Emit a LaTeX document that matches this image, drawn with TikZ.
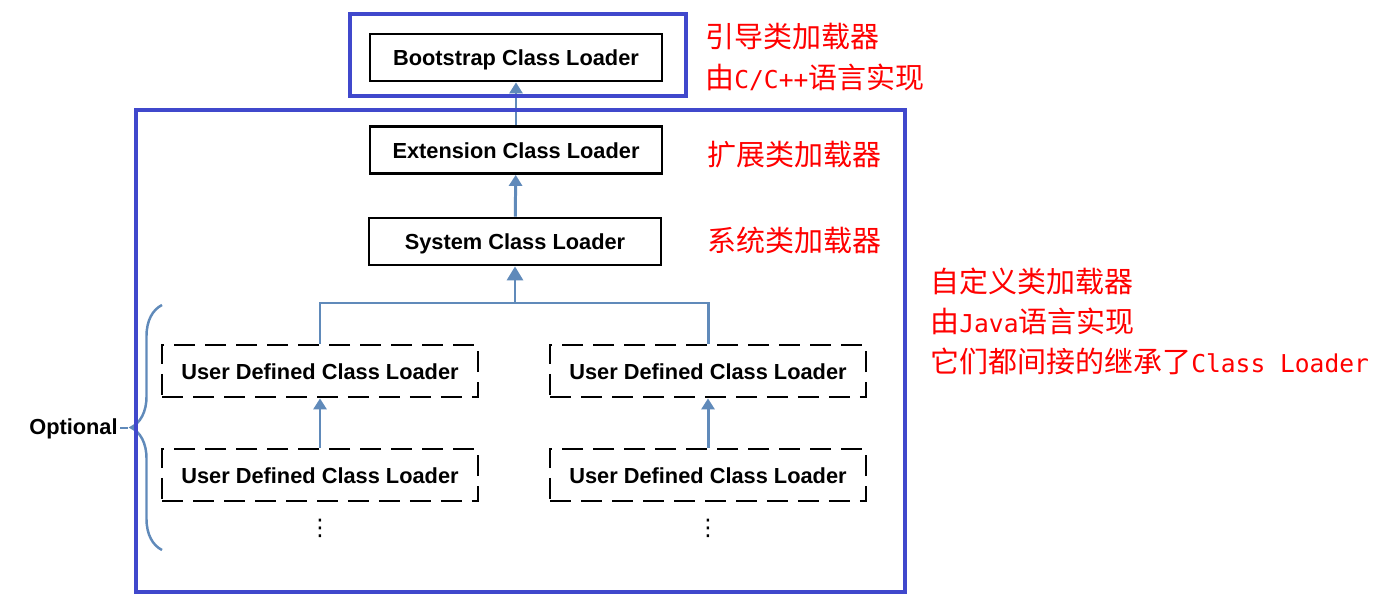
\documentclass[tikz,border=0pt]{standalone}
\usepackage{fontspec}
\usetikzlibrary{arrows.meta,decorations.pathreplacing}
\newfontfamily\cjk{Noto Sans CJK SC}
\newfontfamily\mono{DejaVu Sans Mono}
\newfontfamily\arial{Liberation Sans}
\newfontfamily\dejavu{DejaVu Sans}
\newcommand\asc[1]{{\mono\fontsize{14}{22.8}\selectfont #1}}
\definecolor{frameblue}{RGB}{64,72,204}
\definecolor{linkblue}{RGB}{96,138,186}

\begin{document}
\begin{tikzpicture}[x=0.02cm,y=-0.02cm,
    loader/.style ={draw, line width=1.6pt, minimum width=5.84cm, minimum height=0.94cm,
                    inner sep=0pt, text height=0.4cm, text depth=0.06cm,
                    font=\arial\bfseries\fontsize{12.4}{14}\selectfont},
    userloader/.style ={loader, minimum width=6.32cm, minimum height=1.04cm,
                    dash pattern=on 0.42cm off 0.2cm},
    link/.style ={draw=linkblue, line width=1.7pt},
    uplink/.style ={link, -{Triangle[width=0.26cm,length=0.22cm]}},
    frame/.style ={draw=frameblue, line width=2.4pt},
    more/.style ={inner sep=0pt, font=\dejavu\fontsize{13}{14}\selectfont},
    note/.style ={text=red, align=left, inner sep=0pt,
                  font=\cjk\fontsize{16.5}{22.8}\selectfont}]
   \useasboundingbox[fill=white] (0,0) rectangle (1386,607);

   \node[loader] (B) at (516,57.5) {Bootstrap Class Loader};
   \node[loader] (E) at (516,150) {Extension Class Loader};
   \node[loader] (S) at (515,241.5) {System Class Loader};
   \node[userloader] (U1) at (320,371) {User Defined Class Loader};
   \node[userloader] (U2) at (708,371) {User Defined Class Loader};
   \node[userloader] (U3) at (320,475) {User Defined Class Loader};
   \node[userloader] (U4) at (708,475) {User Defined Class Loader};
   \node[more] (D1) at (320,528) {⋮};
   \node[more] (D2) at (708,528) {⋮};
   \node[font=\arial\bfseries\fontsize{12.4}{14}\selectfont, anchor=east, inner sep=0pt]
        (O) at (118,429) {Optional};
   \coordinate (F) at (515,303);
   \coordinate (T) at (128,428);

   \draw[uplink] (E) to (B);
   \draw[uplink] (S) to (E);
   \draw[uplink, -{Triangle[width=0.32cm,length=0.28cm]}] (F) to (S);
   \draw[link] (U1.north) |- (F) -| (U2.north);
   \draw[uplink] (U3) to (U1);
   \draw[uplink] (U4) to (U2);

   % bracket on the left
   \draw[link, line width=1.4pt, decorate, decoration={brace, amplitude=0.62cm}]
        (162,550) -- (162,305);
   \draw[link, line width=1.4pt] (120,428) to (T);

   % blue frames
   \draw[frame] (350,14) rectangle (686,96);
   \draw[frame] (136,110) rectangle (905,592);

   \node[note, anchor=west] (N1) at (705,57) {引导类加载器\\由\asc{C/C++}语言实现};
   \node[note, anchor=west] (N2) at (707,155) {扩展类加载器};
   \node[note, anchor=west] (N3) at (707,240) {系统类加载器};
   \node[note, anchor=west] (N4) at (930,321)
        {自定义类加载器\\由\asc{Java}语言实现\\它们都间接的继承了\asc{Class Loader}};
 \end{tikzpicture}
\end{document}
